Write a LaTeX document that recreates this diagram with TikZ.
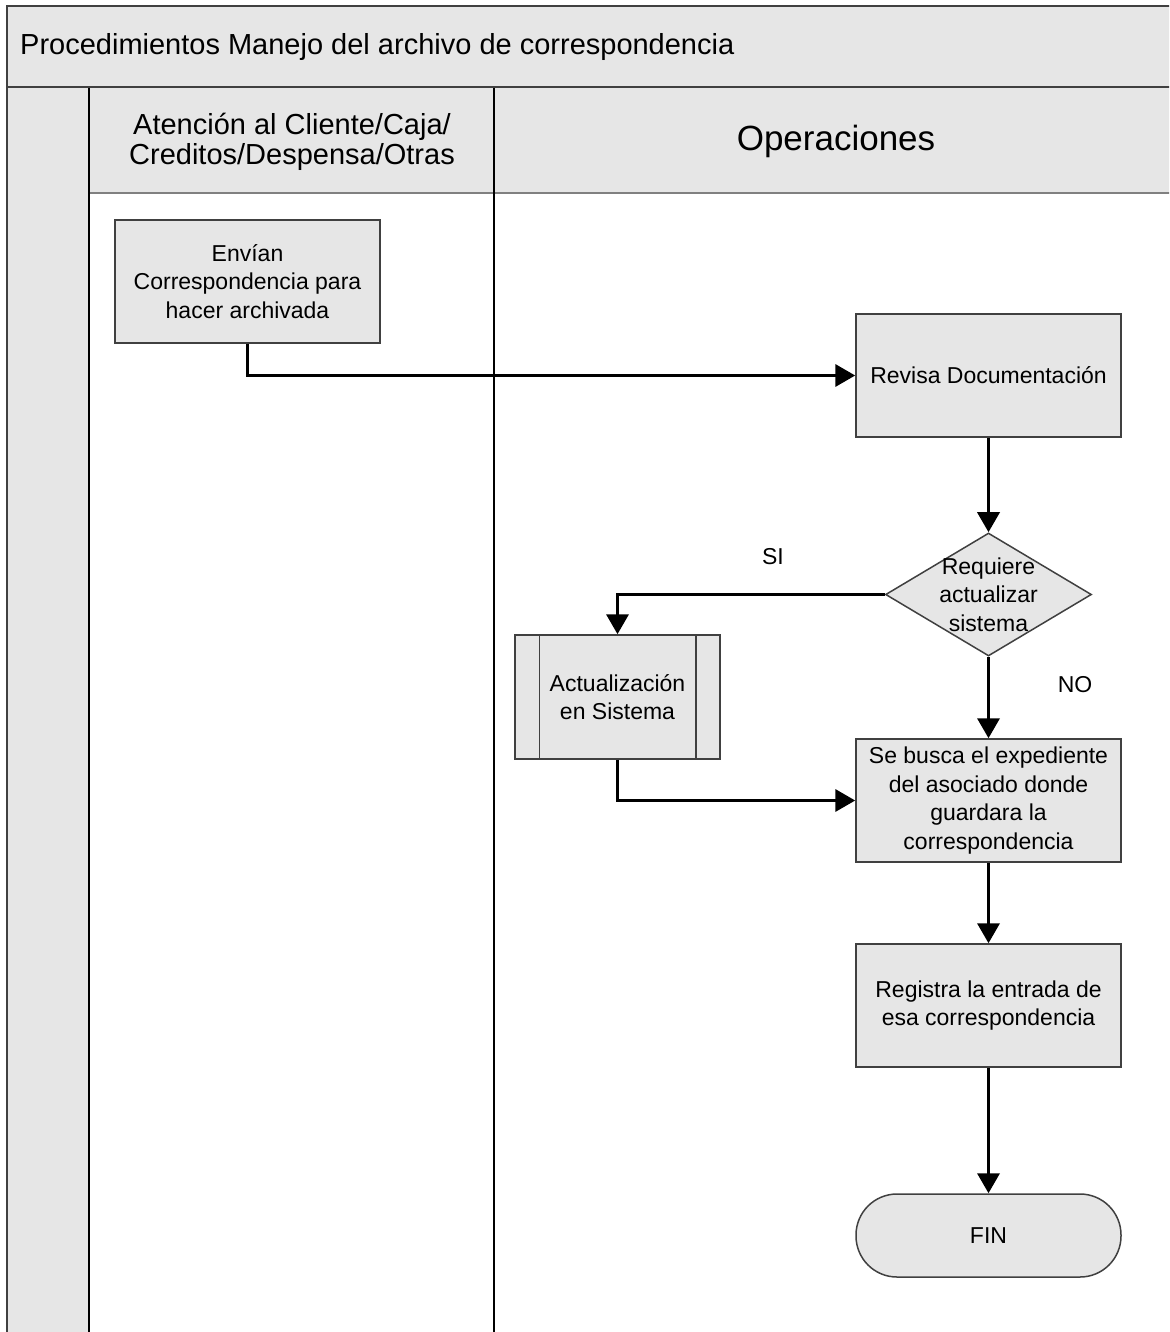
\documentclass[tikz,border=0pt]{standalone}
\usepackage{fontspec}
\setmainfont{Liberation Sans}
\usetikzlibrary{shapes.geometric,arrows.meta}

\definecolor{panel}{HTML}{E6E6E6}
\definecolor{edge}{HTML}{404040}

\tikzset{
  task/.style={draw=edge, line width=1.5pt, fill=panel, inner sep=0pt,
    minimum width=265pt, minimum height=123pt, align=center,
    font=\fontsize{23}{28.5}\selectfont},
  decision/.style={diamond, draw=edge, line width=1.5pt, fill=panel, inner sep=0pt,
    aspect=1.675, minimum width=206pt, minimum height=123pt},
  terminal/.style={task, rounded corners=41pt, minimum height=83pt},
  flow/.style={line width=3.5pt, -{Triangle[length=20pt,width=22pt]}},
  tag/.style={font=\fontsize{23}{28.5}\selectfont}
}

\begin{document}
\begin{tikzpicture}[x=1pt, y=-1pt]
    \useasboundingbox (0,0) rectangle (1169,1332);
    \clip (0,0) rectangle (1169,1332);

    % Pool and lanes
    \fill[panel] (7,6) rectangle (1180,193);
    \fill[panel] (7,193) rectangle (89,1340);
    \draw[edge, line width=2pt] (1180,6) -- (7,6) -- (7,1340);
    \draw[edge, line width=2pt] (7,87) -- (1180,87);
    \draw[gray, line width=2pt] (89,193) -- (1180,193);
    \draw[line width=1.5pt] (89,88) -- (89,1340);
    \draw[line width=1.5pt] (494,88) -- (494,1340);

    % Headers
    \node[anchor=west, inner sep=0pt, font=\fontsize{29}{30}\selectfont] (pool) at (20,47)
        {Procedimientos Manejo del archivo de correspondencia};
    \node[align=center, font=\fontsize{29}{30}\selectfont] (atencion) at (292,142)
        {Atención al Cliente/Caja/\\Creditos/Despensa/Otras};
    \node[font=\fontsize{35}{40}\selectfont] (operaciones) at (836,141) {Operaciones};

    % Steps
    \node[task] (envian) at (247.5,281.5) {Envían\\Correspondencia para\\hacer archivada};
    \node[task] (revisa) at (988.5,375.5) {Revisa Documentación};
    \node[decision, label={[tag, align=center]center:Requiere\\actualizar\\sistema}]
        (requiere) at (988.5,594.5) {};
    \node[task, minimum width=205pt, minimum height=124pt] (actualiza) at (617.5,697)
        {Actualización\\en Sistema};
    \draw[edge, line width=1.5pt] ([xshift=25pt]actualiza.north west) -- ([xshift=25pt]actualiza.south west);
    \draw[edge, line width=1.5pt] ([xshift=-25pt]actualiza.north east) -- ([xshift=-25pt]actualiza.south east);
    \node[task] (busca) at (988.5,800.5)
        {Se busca el expediente\\del asociado donde\\guardara la\\correspondencia};
    \node[task] (registra) at (988.5,1005.5) {Registra la entrada de\\esa correspondencia};
    \node[terminal] (fin) at (988.5,1235.5) {FIN};

    % Branch labels
    \node[tag] (si) at (773,557) {SI};
    \node[tag] (no) at (1075,685) {NO};

    % Flow
    \draw[flow] (envian.south) |- (revisa.west);
    \draw[flow] (revisa) -- (requiere);
    \draw[flow] (requiere.west) -| (actualiza.north);
    \draw[flow] (requiere) -- (busca);
    \draw[flow] (actualiza.south) |- (busca.west);
    \draw[flow] (busca) -- (registra);
    \draw[flow] (registra) -- (fin);
\end{tikzpicture}
\end{document}
